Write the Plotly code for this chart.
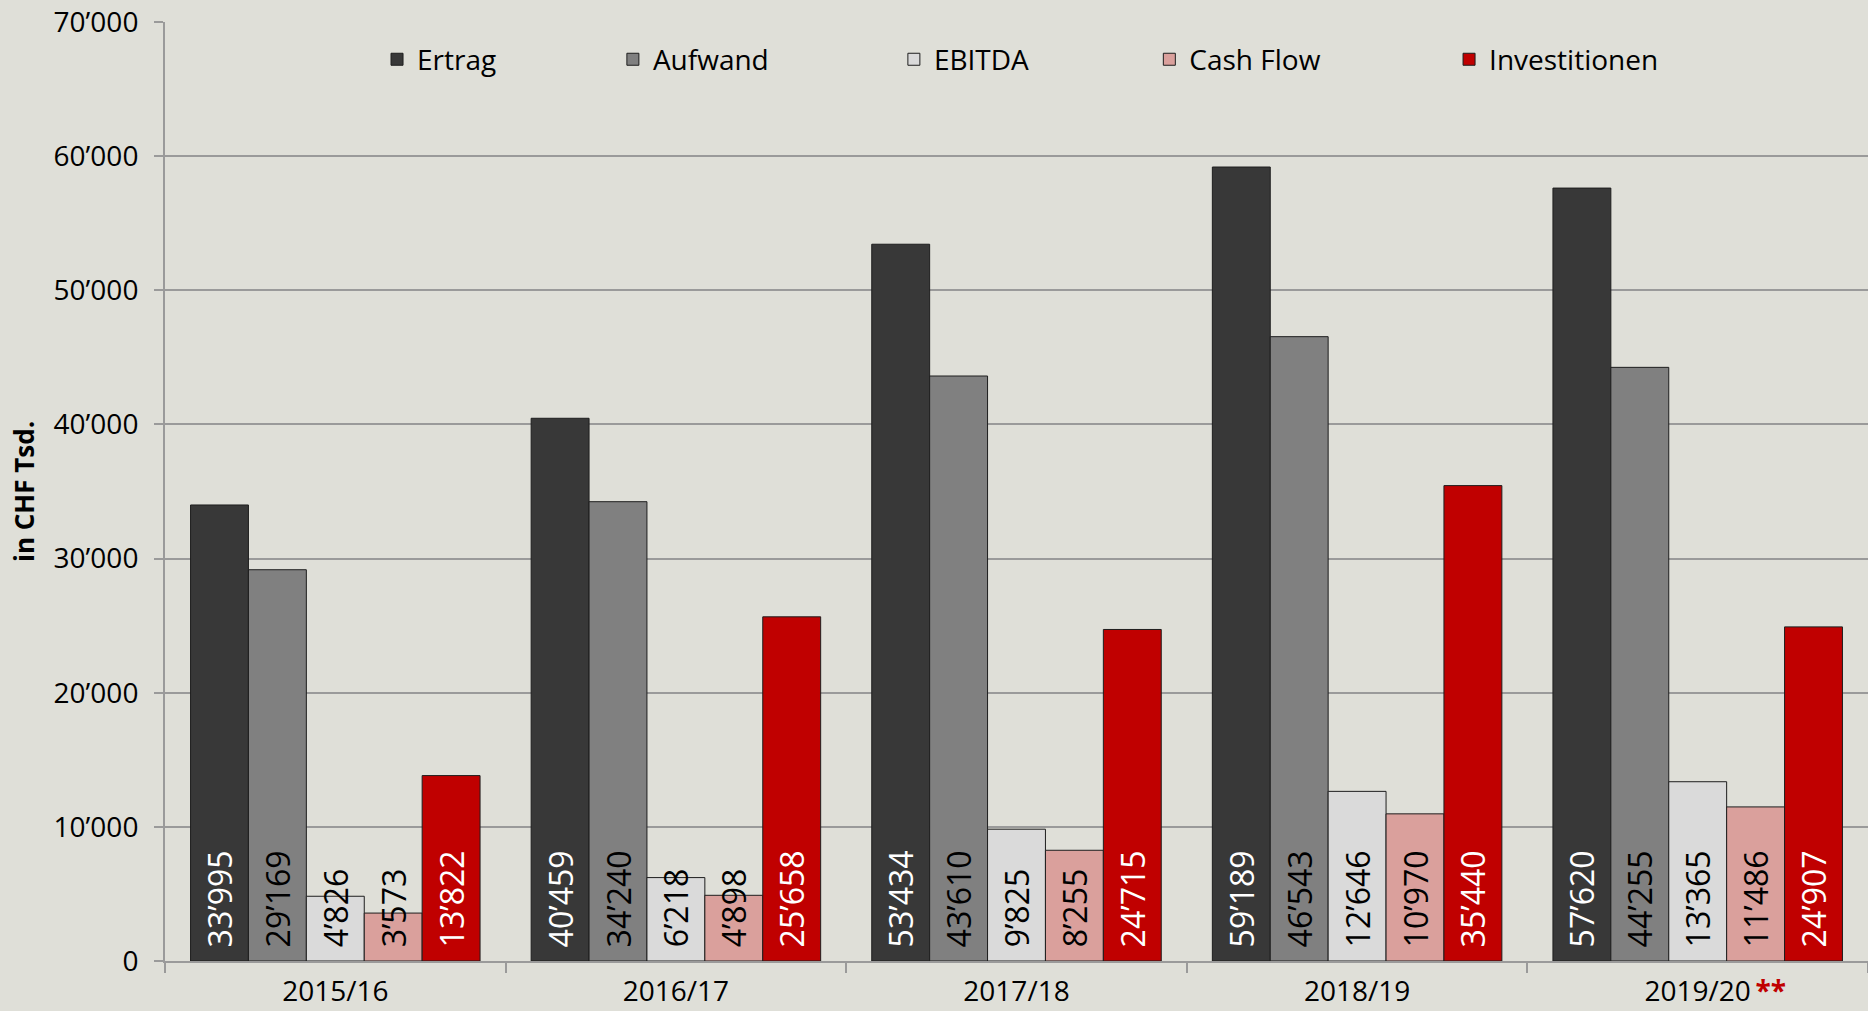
"""
Ertrag, Aufwand, EBITDA, Cash Flow und Investitionen (in CHF Tsd.)
"""

import plotly.graph_objects as go

# Geschäftsjahre
years = ["2015/16", "2016/17", "2017/18", "2018/19", "2019/20"]
year_labels = ["2015/16", "2016/17", "2017/18", "2018/19",
               "<span style='color:rgba(0,0,0,0)'><b>**\u2009</b></span>2019/20"
               "<span style='color:#c00000'><b>\u2009**</b></span>"]

# Werte in CHF Tsd.
ertrag = [33995, 40459, 53434, 59189, 57620]
aufwand = [29169, 34240, 43610, 46543, 44255]
ebitda = [4826, 6218, 9825, 12646, 13365]
cash_flow = [3573, 4898, 8255, 10970, 11486]
investitionen = [13822, 25658, 24715, 35440, 24907]

y_ticks = [0, 10000, 20000, 30000, 40000, 50000, 60000, 70000]

FONT = "Open Sans"


def fmt(v):
    # Schweizer Tausendertrennzeichen
    return f"{v:,}".replace(",", "\u2019")


series = [
    ("Ertrag", ertrag, "#383838", "white"),
    ("Aufwand", aufwand, "#808080", "black"),
    ("EBITDA", ebitda, "#dadada", "black"),
    ("Cash Flow", cash_flow, "#daa09c", "black"),
    ("Investitionen", investitionen, "#c00000", "white"),
]

# eine Legende pro Serie, damit die Abstände wie im Original sind
legend_x = [0.1245, 0.263, 0.428, 0.578, 0.754]
legend_ids = ["legend", "legend2", "legend3", "legend4", "legend5"]

fig = go.Figure()

for (name, values, color, text_color), lid in zip(series, legend_ids):
    fig.add_trace(go.Bar(
        x=years,
        y=values,
        name=name,
        legend=lid,
        marker=dict(color=color, line=dict(color="#1e1e1e", width=1)),
        text=["\u2009\u2009" + fmt(v) for v in values],
        textposition="inside",
        insidetextanchor="start",
        textangle=-90,
        constraintext="none",
        textfont=dict(family=FONT, size=32, color=text_color),
        cliponaxis=False,
    ))

legends = {}
for lid, lx in zip(legend_ids, legend_x):
    legends[lid] = dict(
        orientation="h",
        x=lx,
        xanchor="left",
        y=0.96,
        yanchor="middle",
        bgcolor="rgba(0,0,0,0)",
        font=dict(family=FONT, size=28),
    )

fig.update_layout(
    width=1868,
    height=1011,
    barmode="group",
    bargap=0.15,
    bargroupgap=0,
    paper_bgcolor="#dfdfd8",
    plot_bgcolor="#dfdfd8",
    margin=dict(l=165, r=0, t=22, b=50),
    font=dict(family=FONT, size=28, color="black"),
    showlegend=True,
    **legends,
)

fig.update_xaxes(
    tickvals=years,
    ticktext=year_labels,
    automargin=False,
    showline=True,
    linecolor="#9a9a9a",
    linewidth=2,
    ticks="outside",
    tickson="boundaries",
    ticklen=10,
    tickwidth=2,
    tickcolor="#9a9a9a",
    ticklabelstandoff=4,
    showgrid=False,
    tickfont=dict(family=FONT, size=28),
)

fig.update_yaxes(
    range=[0, 70000],
    tickvals=y_ticks,
    ticktext=[fmt(v) for v in y_ticks],
    automargin=False,
    showline=True,
    linecolor="#9a9a9a",
    linewidth=2,
    ticks="outside",
    ticklen=9,
    tickwidth=2,
    tickcolor="#9a9a9a",
    ticklabelstandoff=10,
    showgrid=True,
    gridcolor="#9a9a9a",
    gridwidth=2,
    zeroline=False,
    tickfont=dict(family=FONT, size=28),
    title=dict(text="<b>in CHF Tsd.</b>", font=dict(family=FONT, size=26),
               standoff=12),
)

fig.write_html("out.html", config={"displayModeBar": False},
               post_script="document.body.style.margin = '0';")
